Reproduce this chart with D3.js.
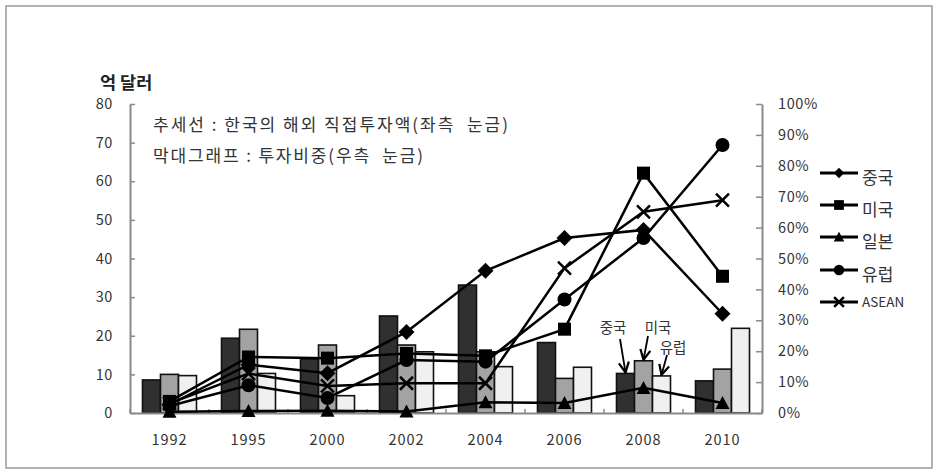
<!DOCTYPE html>
<html><head><meta charset="utf-8">
<script src="https://cdn.jsdelivr.net/npm/d3@7"></script>
<style>
body{margin:0;background:#fff;}
text{font-family:"Noto Sans CJK KR","Noto Sans",sans-serif;}
</style></head>
<body><svg id="c" width="936" height="474"></svg>
<script>
const years = ['1992','1995','2000','2002','2004','2006','2008','2010'];
// lines: 한국의 해외 직접투자액 (억 달러, left axis)
const china  = [2.2, 12.5, 10.3, 21.0, 36.8, 45.3, 47.4, 25.7];
const usa    = [3.0, 14.5, 14.2, 15.4, 14.8, 21.7, 62.1, 35.4];
const japan  = [0.3, 0.5, 0.6, 0.4, 2.8, 2.6, 6.5, 2.6];
const europe = [1.8, 7.2, 3.9, 13.7, 13.3, 29.4, 45.3, 69.4];
const asean  = [2.5, 10.2, 7.0, 7.7, 7.7, 37.5, 52.1, 55.1];
// bars: 투자비중 (right axis)
const chinaShare  = [0.107, 0.242, 0.175, 0.314, 0.414, 0.228, 0.128, 0.104];
const usaShare    = [0.125, 0.271, 0.220, 0.220, 0.198, 0.112, 0.169, 0.142];
const europeShare = [0.121, 0.128, 0.056, 0.198, 0.150, 0.148, 0.120, 0.274];
const leftTicks = [0,10,20,30,40,50,60,70,80];
const rightTicks = [0,0.1,0.2,0.3,0.4,0.5,0.6,0.7,0.8,0.9,1.0];
const seriesNames = ['중국','미국','일본','유럽','ASEAN'];
const barNames = ['중국','미국','유럽'];

const svg = d3.select('#c');
const L = 130, R = 762, T = 104, B = 413;
const FONT = '"Noto Sans CJK KR","Noto Sans",sans-serif';

svg.append('rect').attr('x',6).attr('y',6).attr('width',926).attr('height',462)
  .attr('fill','#fff').attr('stroke','#9a9a9a').attr('stroke-width',1.5);

const x = d3.scaleBand().domain(years).range([L,R]).padding(0);
const yL = d3.scaleLinear().domain([0,80]).range([B,T]);
const yR = d3.scaleLinear().domain([0,1]).range([B,T]);
const xb = d3.scaleBand().domain(barNames).range([0,54]);
const barFill = {'중국':'#303030','미국':'#a3a3a3','유럽':'#f0f0f0'};
const shares = {'중국':chinaShare,'미국':usaShare,'유럽':europeShare};

// bars
const gBars = svg.append('g');
years.forEach((yr,i)=>{
  barNames.forEach(n=>{
    const v = shares[n][i];
    gBars.append('rect')
      .attr('x', x(yr) + (x.bandwidth()-54)/2 + xb(n))
      .attr('y', yR(v))
      .attr('width', xb.bandwidth())
      .attr('height', B - yR(v))
      .attr('fill', barFill[n]).attr('stroke','#111').attr('stroke-width',1.6);
  });
});

// axes
const axisColor = '#8a8a8a';
const gl = svg.append('g').attr('transform',`translate(${L},0)`)
  .call(d3.axisLeft(yL).tickValues(leftTicks).tickSizeInner(-5).tickSizeOuter(0).tickPadding(17));
const gr = svg.append('g').attr('transform',`translate(${R},0)`)
  .call(d3.axisRight(yR).tickValues(rightTicks).tickFormat(d3.format('.0%')).tickSizeInner(-6).tickSizeOuter(0).tickPadding(16));
const gb = svg.append('g').attr('transform',`translate(0,${B})`)
  .call(d3.axisBottom(x).tickSize(0).tickPadding(22));
[gl,gr,gb].forEach(g=>{
  g.select('.domain').attr('stroke',axisColor).attr('stroke-width',2);
  g.selectAll('.tick line').attr('stroke',axisColor).attr('stroke-width',1.5);
  g.selectAll('text').attr('font-size',14.5).attr('fill','#333').attr('letter-spacing','0.6px')
    .style('font-family',FONT);
});
gb.selectAll('text').attr('letter-spacing','1px');
// category boundary ticks on x axis
svg.append('g').selectAll('line').data(d3.range(years.length+1)).join('line')
  .attr('x1',d=>L + d*x.step()).attr('x2',d=>L + d*x.step())
  .attr('y1',B).attr('y2',B-4).attr('stroke',axisColor).attr('stroke-width',1.5);

// lines
const seriesData = [china,usa,japan,europe,asean];
const shapes = ['diamond','square','triangle','circle','x'];
const cx = yr => x(yr) + x.bandwidth()/2;
const line = d3.line().x((d,i)=>cx(years[i])).y(d=>yL(d));
function marker(g, shape, px, py, s){
  if(shape==='diamond'){
    g.append('path').attr('d',`M${px},${py-8*s}L${px+8*s},${py}L${px},${py+8*s}L${px-8*s},${py}Z`).attr('fill','#000');
  } else if(shape==='square'){
    g.append('rect').attr('x',px-6.5*s).attr('y',py-6.5*s).attr('width',13*s).attr('height',13*s).attr('fill','#000');
  } else if(shape==='triangle'){
    g.append('path').attr('d',`M${px},${py-7*s}L${px+7*s},${py+6*s}L${px-7*s},${py+6*s}Z`).attr('fill','#000');
  } else if(shape==='circle'){
    g.append('circle').attr('cx',px).attr('cy',py).attr('r',7*s).attr('fill','#000');
  } else {
    g.append('path').attr('d',`M${px-6.5*s},${py-6.5*s}L${px+6.5*s},${py+6.5*s}M${px-6.5*s},${py+6.5*s}L${px+6.5*s},${py-6.5*s}`)
      .attr('stroke','#000').attr('stroke-width',2.5).attr('fill','none');
  }
}
const gLines = svg.append('g');
seriesData.forEach((arr,k)=>{
  gLines.append('path').datum(arr).attr('d',line).attr('fill','none')
    .attr('stroke','#000').attr('stroke-width',2.5);
});
seriesData.forEach((arr,k)=>{
  arr.forEach((v,i)=>marker(gLines, shapes[k], cx(years[i]), yL(v), 1));
});

// legend
const legY = [173, 205, 237, 270, 302];
const gLeg = svg.append('g');
seriesNames.forEach((n,k)=>{
  gLeg.append('line').attr('x1',820).attr('x2',858).attr('y1',legY[k]).attr('y2',legY[k])
    .attr('stroke','#000').attr('stroke-width',3);
  marker(gLeg, shapes[k], 839, legY[k], shapes[k]==='diamond'?0.65:0.75);
  gLeg.append('text').attr('x',862).attr('y',legY[k] + (n==='ASEAN'?1:6))
    .attr('dominant-baseline','middle')
    .attr('font-size', n==='ASEAN'?13.5:17).attr('fill','#333').text(n);
});

// titles / notes
svg.append('text').attr('x',100).attr('y',89).attr('font-size',17.5).attr('font-weight','bold')
  .attr('fill','#222').text('억 달러');
svg.append('text').attr('x',153).attr('y',131).attr('font-size',17).attr('fill','#333')
  .attr('textLength',355).attr('lengthAdjust','spacing').style('white-space','pre')
  .text('추세선 : 한국의 해외 직접투자액(좌측  눈금)');
svg.append('text').attr('x',153).attr('y',162).attr('font-size',17).attr('fill','#333')
  .attr('textLength',270).attr('lengthAdjust','spacing').style('white-space','pre')
  .text('막대그래프 : 투자비중(우측  눈금)');

// annotations with arrows
svg.append('defs').append('marker').attr('id','ah').attr('viewBox','0 0 10 10')
  .attr('refX',9).attr('refY',5).attr('markerWidth',7).attr('markerHeight',7).attr('orient','auto')
  .append('path').attr('d','M1,1L9,5L1,9').attr('fill','none').attr('stroke','#000').attr('stroke-width',1.8);
const i08 = years.indexOf('2008');
const x08 = x(years[i08]) + (x.bandwidth()-54)/2;
const notes = [
  {t:'중국', tx:613, ty:333, x1:620, y1:339, x2:x08 + xb('중국') + xb.bandwidth()/2, y2:yR(chinaShare[i08])-1},
  {t:'미국', tx:658, ty:333, x1:648, y1:336, x2:x08 + xb('미국') + xb.bandwidth()/2, y2:yR(usaShare[i08])-1},
  {t:'유럽', tx:673, ty:353, x1:667, y1:355, x2:x08 + xb('유럽') + xb.bandwidth()/2, y2:yR(europeShare[i08])-1}
];
notes.forEach(n=>{
  svg.append('text').attr('x',n.tx).attr('y',n.ty).attr('text-anchor','middle')
    .attr('font-size',14.5).attr('fill','#333').text(n.t);
  svg.append('line').attr('x1',n.x1).attr('y1',n.y1).attr('x2',n.x2).attr('y2',n.y2)
    .attr('stroke','#000').attr('stroke-width',1.8).attr('marker-end','url(#ah)');
});
</script></body></html>
